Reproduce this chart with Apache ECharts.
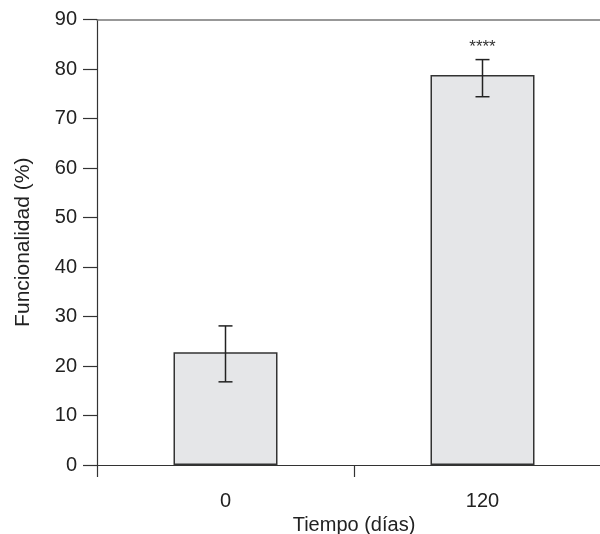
<!DOCTYPE html>
<html>
<head>
<meta charset="utf-8">
<script src="https://cdn.jsdelivr.net/npm/echarts@6/dist/echarts.min.js"></script>
<style>html,body{margin:0;padding:0;background:#fff}#c{width:600px;height:534px}</style>
</head>
<body>
<div id="c"></div>
<script>
var categories = ['0', '120'];
var means = [22.8, 78.8];
var errLow = [16.8, 74.4];
var errHigh = [28.1, 81.9];
var significance = ['', '****'];
var yTicks = [0, 10, 20, 30, 40, 50, 60, 70, 80, 90];

var chart = echarts.init(document.getElementById('c'), null, {renderer: 'canvas'});
var font = 'Liberation Sans, Arial, Helvetica, sans-serif';
var axisColor = '#333';

var errData = categories.map(function (c, i) { return [i, errLow[i], errHigh[i], significance[i]]; });

chart.setOption({
  animation: false,
  backgroundColor: '#fff',
  grid: {left: 97, top: 19.5, width: 514, height: 445.5, containLabel: false, outerBoundsMode: 'none'},
  xAxis: [{
    type: 'category',
    data: categories,
    position: 'bottom',
    name: 'Tiempo (días)',
    nameLocation: 'middle',
    nameGap: 47,
    nameTextStyle: {fontFamily: font, fontSize: 20, color: '#222'},
    axisLine: {onZero: false, lineStyle: {color: axisColor, width: 1.2}},
    axisTick: {show: true, length: 12, alignWithLabel: false, interval: 0, lineStyle: {color: axisColor, width: 1.2}},
    axisLabel: {fontFamily: font, fontSize: 20, color: '#222', margin: 26},
    splitLine: {show: false}
  }, {
    type: 'category',
    data: categories,
    position: 'top',
    axisLine: {show: true, onZero: false, lineStyle: {color: '#777', width: 1.5}},
    axisTick: {show: false},
    axisLabel: {show: false}
  }],
  yAxis: {
    type: 'value',
    min: 0,
    max: 90,
    interval: 10,
    name: 'Funcionalidad (%)',
    nameLocation: 'middle',
    nameGap: 63,
    nameRotate: 90,
    nameTextStyle: {fontFamily: font, fontSize: 21, color: '#222'},
    axisLine: {show: true, lineStyle: {color: axisColor, width: 1.2}},
    axisTick: {show: true, length: 14, inside: false, lineStyle: {color: axisColor, width: 1.2}},
    axisLabel: {fontFamily: font, fontSize: 20, color: '#222', margin: 20,
      formatter: function (v) { return yTicks.indexOf(v) >= 0 ? String(v) : ''; }},
    splitLine: {show: false}
  },
  series: [{
    type: 'bar',
    data: means,
    barWidth: 104,
    itemStyle: {color: '#e5e6e8', borderColor: '#333', borderWidth: 1.5},
    z: 2
  }, {
    type: 'custom',
    data: errData,
    z: 3,
    encode: {x: 0, y: [1, 2]},
    renderItem: function (params, api) {
      var x = api.value(0);
      var lo = api.coord([x, api.value(1)]);
      var hi = api.coord([x, api.value(2)]);
      var cap = 7;
      var style = {stroke: '#222', lineWidth: 1.5};
      var children = [
        {type: 'line', shape: {x1: hi[0], y1: hi[1], x2: lo[0], y2: lo[1]}, style: style},
        {type: 'line', shape: {x1: hi[0] - cap, y1: hi[1], x2: hi[0] + cap, y2: hi[1]}, style: style},
        {type: 'line', shape: {x1: lo[0] - cap, y1: lo[1], x2: lo[0] + cap, y2: lo[1]}, style: style}
      ];
      var sig = api.value(3);
      if (sig) {
        children.push({type: 'text', x: hi[0], y: hi[1] - 12,
          style: {text: sig, fill: '#333', font: '17px ' + font, align: 'center', verticalAlign: 'middle'}});
      }
      return {type: 'group', children: children};
    }
  }]
});
</script>
</body>
</html>
